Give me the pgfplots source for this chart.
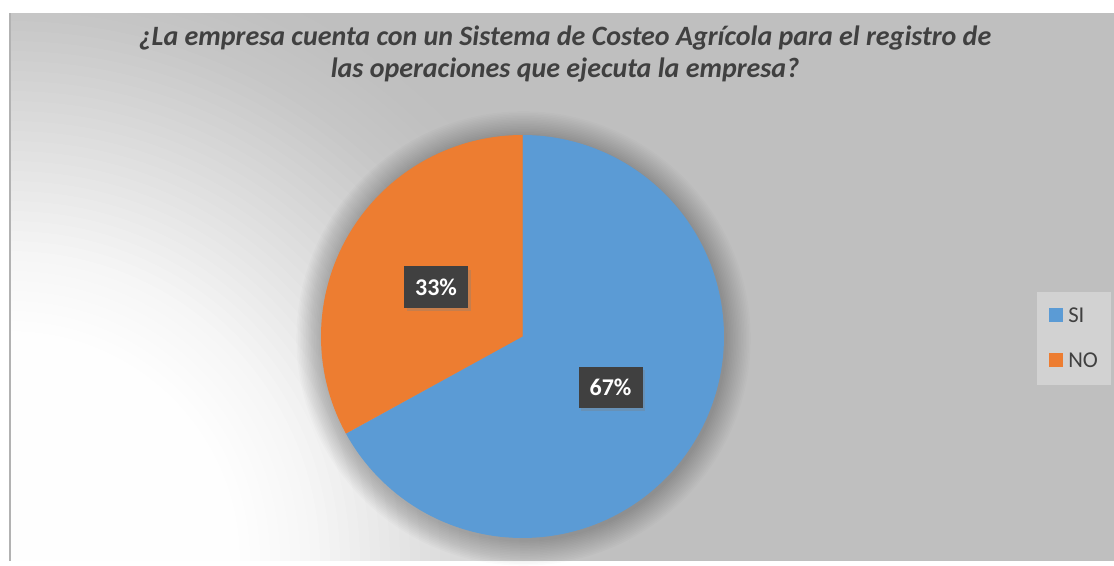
\documentclass[border=0pt]{standalone}
\usepackage{pgfplots}
\pgfplotsset{compat=1.18}
\usepackage{pgfplotstable}
\usepackage{fontspec}
\setmainfont{Carlito}
\usetikzlibrary{shadows}

\definecolor{siblue}{HTML}{5B9BD5}
\definecolor{noorange}{HTML}{ED7D31}
\definecolor{bggray}{HTML}{BFBFBF}
\definecolor{txt}{HTML}{404040}
\definecolor{lblbox}{HTML}{404040}
\definecolor{legbg}{HTML}{D2D2D2}

% respuestas (%)
\pgfplotstableread{
resp valor
SI   67
NO   33
}\datos
\pgfplotstablegetelem{0}{valor}\of\datos \let\vsi\pgfplotsretval
\pgfplotstablegetelem{1}{valor}\of\datos \let\vno\pgfplotsretval
\pgfmathsetmacro{\asi}{90-3.6*\vsi}
\pgfmathsetmacro{\ano}{\asi-3.6*\vno}

\begin{document}
\begin{tikzpicture}
% fondo: degradado suave desde la esquina inferior izquierda
\begin{scope}[x=0.75pt, y=0.75pt]
  \fill[white] (0,0) rectangle (1114,561);
  \clip (10,0) rectangle (1114,548);
  \fill[bggray] (10,0) rectangle (1114,548);
  \foreach \j in {47,46,...,1}{
    \pgfmathsetmacro{\wa}{0.5+0.5*cos(180*(\j-1)/47)}
    \pgfmathsetmacro{\wb}{0.5+0.5*cos(180*\j/47)}
    \pgfmathsetmacro{\op}{min(1,(\wa-\wb)/(1-\wb+0.00001))}
    \pgfmathsetmacro{\rr}{220+(\j-1)*10}
    \fill[white, opacity=\op] (10,0) circle[radius=\rr];
  }
\end{scope}
\begin{axis}[
  width=835.5pt, height=420.75pt, scale only axis,
  xmin=0, xmax=1114, ymin=0, ymax=561,
  hide axis, clip=false,
]
\draw[color=black!30, line width=1.5pt] (axis cs:10,0) -- (axis cs:10,548);

% sombra del pastel
\pgfplotsinvokeforeach{1,...,16}{
  \fill[black, opacity=0.016] (axis cs:523.5,222.5) circle[radius={151.1pt+#1*1.2pt}];
}

\addplot[draw=none, fill=siblue, domain=90:\asi, samples=150]
  ({522.5+201.5*cos(x)},{224.5+201.5*sin(x)}) -- (axis cs:522.5,224.5) -- cycle;
\addplot[draw=none, fill=noorange, domain=\asi:\ano, samples=100]
  ({522.5+201.5*cos(x)},{224.5+201.5*sin(x)}) -- (axis cs:522.5,224.5) -- cycle;

\tikzset{etq/.style={fill=lblbox, text=white, font=\bfseries\fontsize{18}{20}\selectfont,
  minimum width=48pt, minimum height=31pt, inner sep=0pt,
  drop shadow={opacity=0.35, shadow xshift=2pt, shadow yshift=-2.5pt}}}
\node[etq] at (axis cs:436,274) {33\%};
\node[etq] at (axis cs:610.5,173.5) {67\%};

\node[font=\bfseries\itshape\fontsize{21}{24}\selectfont, text=txt, align=center]
  at (axis cs:565,507) {¿La empresa cuenta con un Sistema de Costeo Agrícola para el registro de\\las operaciones que ejecuta la empresa?};

% leyenda
\fill[legbg] (axis cs:1037,269) rectangle (axis cs:1111,176);
\fill[siblue] (axis cs:1049,253) rectangle (axis cs:1063,239);
\fill[noorange] (axis cs:1049,208) rectangle (axis cs:1063,194);
\node[anchor=west, text=txt, font=\fontsize{17}{20}\selectfont, inner sep=0pt] at (axis cs:1068,246) {SI};
\node[anchor=west, text=txt, font=\fontsize{17}{20}\selectfont, inner sep=0pt] at (axis cs:1068,201) {NO};
\end{axis}
\end{tikzpicture}
\end{document}
